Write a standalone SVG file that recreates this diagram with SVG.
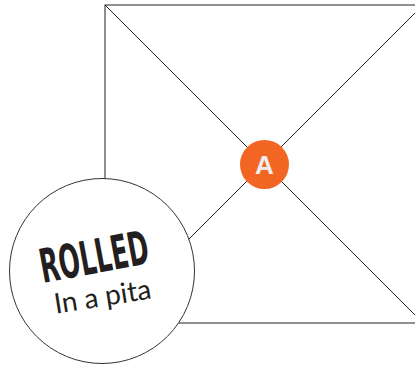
<svg xmlns="http://www.w3.org/2000/svg" width="415" height="368" viewBox="0 0 415 368">
<style>
.ln{stroke:#231f20;stroke-width:1;fill:none}
.rolled{font-family:"DejaVu Sans Condensed","DejaVu Sans",sans-serif;font-weight:bold;fill:#231f20}
.pita{font-family:"Lato","Noto Sans",sans-serif;font-weight:400;fill:#231f20}
</style>
<rect width="415" height="368" fill="#fff"/>
<g id="connectors">
<rect class="ln" x="105" y="5" width="318" height="318"/>
<line class="ln" x1="105" y1="5" x2="423" y2="323"/>
<line class="ln" x1="423" y1="5" x2="105" y2="323"/>
</g>
<g id="node-a">
<circle cx="264.5" cy="164.5" r="24.5" fill="#f26522"/>
<text x="264.5" y="174" text-anchor="middle" font-family="Liberation Sans, Arial, sans-serif" font-weight="bold" font-size="26" fill="#eeeeee">A</text>
</g>
<g id="node-rolled">
<circle cx="102" cy="271" r="92.5" fill="#fff" stroke="#333" stroke-width="1"/>
<text class="rolled" x="97" y="273" font-size="47" text-anchor="middle" textLength="110" lengthAdjust="spacingAndGlyphs" transform="rotate(-10.5 97 273)">ROLLED</text>
<text class="pita" x="104" y="306" font-size="28" text-anchor="middle" transform="rotate(-9 104 306)">In a pita</text>
</g>
</svg>
